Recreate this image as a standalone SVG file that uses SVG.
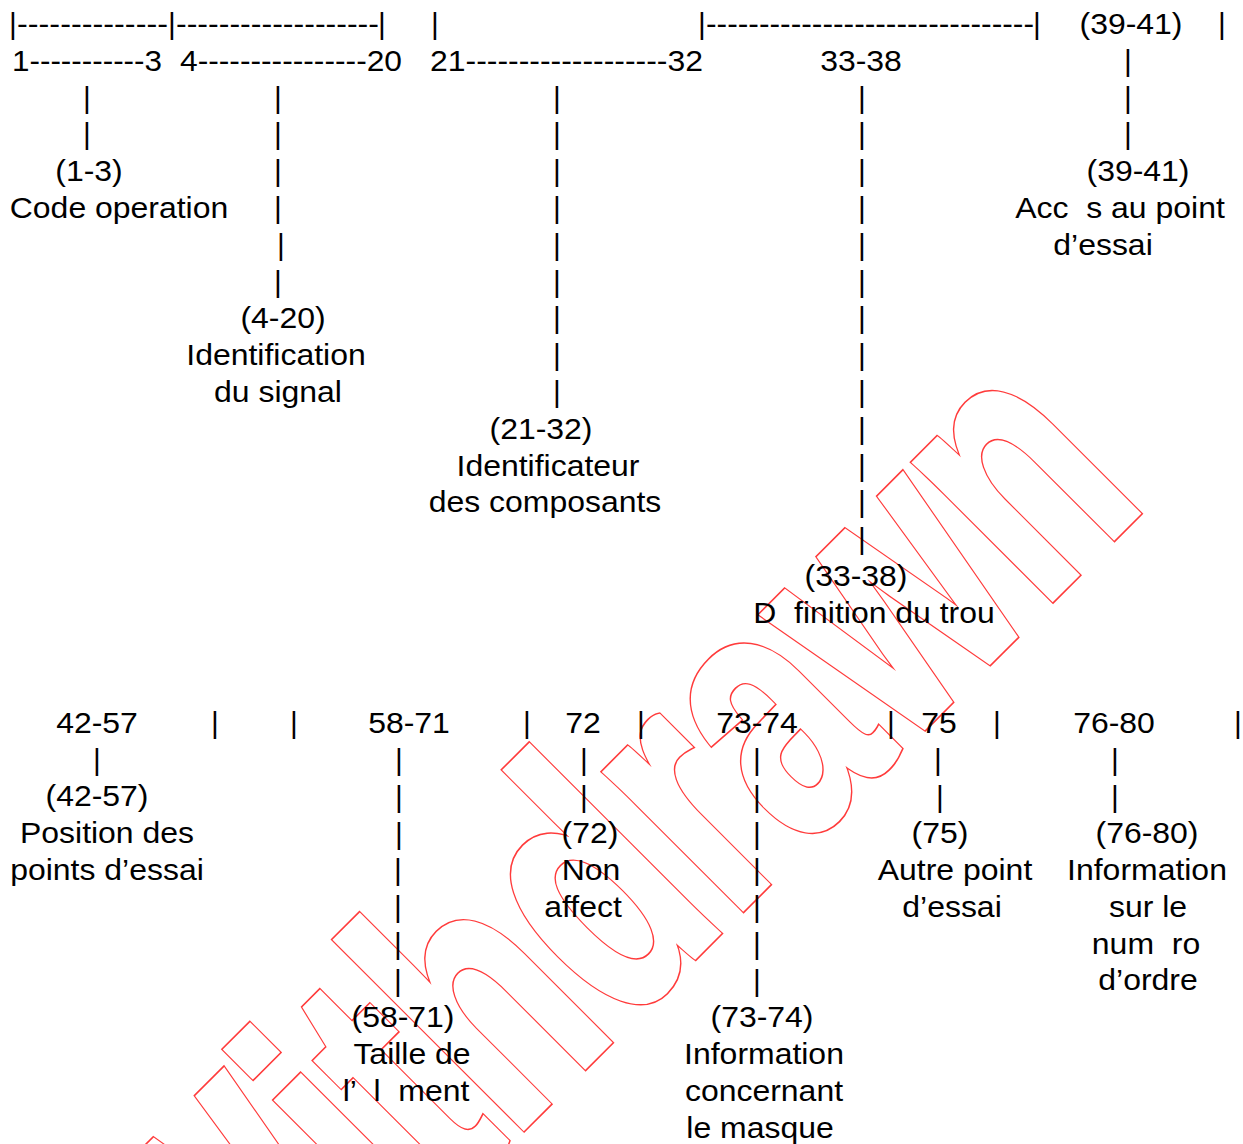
<svg xmlns="http://www.w3.org/2000/svg" width="1243" height="1144" viewBox="0 0 1243 1144">
<style>
text{font-family:"Liberation Sans",Arial,sans-serif;font-size:30px;fill:#000;white-space:pre}
.t{text-anchor:middle}
.p{text-anchor:middle}
.d{text-anchor:start}
.wm{font-family:"Liberation Sans",Arial,sans-serif;font-weight:bold;font-size:254px;text-anchor:start}
.wm1{fill:none;stroke:#ff3b3b;stroke-width:7.6px;stroke-linejoin:miter}
.wm2{fill:#fff;stroke:#fff;stroke-width:4.8px;stroke-linejoin:miter}
</style>
<rect width="1243" height="1144" fill="#fff"/>

<g id="watermark">
<text class="wm wm1" transform="translate(233 1418) rotate(-45) scale(1 1.44)" vector-effect="non-scaling-stroke">Withdrawn</text>
<text class="wm wm2" transform="translate(233 1418) rotate(-45) scale(1 1.44)" vector-effect="non-scaling-stroke">Withdrawn</text>
</g>

<g id="scale-top">
<text class="p" x="13" y="34">|</text>
<text class="d" x="17" y="34" textLength="151" lengthAdjust="spacingAndGlyphs">--------------</text>
<text class="p" x="172" y="34">|</text>
<text class="d" x="176" y="34" textLength="203" lengthAdjust="spacingAndGlyphs">-------------------</text>
<text class="p" x="382" y="34">|</text>
<text class="p" x="435" y="34">|</text>
<text class="p" x="702" y="34">|</text>
<text class="d" x="706" y="34" textLength="328" lengthAdjust="spacingAndGlyphs">-------------------------------</text>
<text class="p" x="1037" y="34">|</text>
<text class="p" x="1222" y="34">|</text>
<text class="d" x="12" y="70.8" textLength="150" lengthAdjust="spacingAndGlyphs">1-----------3</text>
<text class="d" x="180" y="70.8" textLength="222" lengthAdjust="spacingAndGlyphs">4----------------20</text>
<text class="d" x="430" y="70.8" textLength="273" lengthAdjust="spacingAndGlyphs">21-------------------32</text>
</g>

<g id="scale-bottom">
<text class="p" x="215" y="733.2">|</text>
<text class="p" x="294" y="733.2">|</text>
<text class="p" x="527" y="733.2">|</text>
<text class="p" x="641" y="733.2">|</text>
<text class="p" x="891" y="733.2">|</text>
<text class="p" x="997" y="733.2">|</text>
<text class="p" x="1238" y="733.2">|</text>
</g>

<g id="connectors">
<text class="p" x="87" y="107.6">|</text>
<text class="p" x="87" y="144.4">|</text>

<text class="p" x="278" y="107.6">|</text>
<text class="p" x="278" y="144.4">|</text>
<text class="p" x="278" y="181.2">|</text>
<text class="p" x="278" y="218">|</text>
<text class="p" x="281" y="254.8">|</text>
<text class="p" x="278" y="291.6">|</text>

<text class="p" x="557" y="107.6">|</text>
<text class="p" x="557" y="144.4">|</text>
<text class="p" x="557" y="181.2">|</text>
<text class="p" x="557" y="218">|</text>
<text class="p" x="557" y="254.8">|</text>
<text class="p" x="557" y="291.6">|</text>
<text class="p" x="557" y="328.4">|</text>
<text class="p" x="557" y="365.2">|</text>
<text class="p" x="557" y="402">|</text>

<text class="p" x="862" y="107.6">|</text>
<text class="p" x="862" y="144.4">|</text>
<text class="p" x="862" y="181.2">|</text>
<text class="p" x="862" y="218">|</text>
<text class="p" x="862" y="254.8">|</text>
<text class="p" x="862" y="291.6">|</text>
<text class="p" x="862" y="328.4">|</text>
<text class="p" x="862" y="365.2">|</text>
<text class="p" x="862" y="402">|</text>
<text class="p" x="862" y="438.8">|</text>
<text class="p" x="862" y="475.6">|</text>
<text class="p" x="862" y="512.4">|</text>
<text class="p" x="862" y="549.2">|</text>

<text class="p" x="1128" y="70.8">|</text>
<text class="p" x="1128" y="107.6">|</text>
<text class="p" x="1128" y="144.4">|</text>

<text class="p" x="97" y="770">|</text>

<text class="p" x="399" y="770">|</text>
<text class="p" x="399" y="806.8">|</text>
<text class="p" x="399" y="843.6">|</text>
<text class="p" x="398" y="880.4">|</text>
<text class="p" x="398" y="917.2">|</text>
<text class="p" x="398" y="954">|</text>
<text class="p" x="398" y="990.8">|</text>

<text class="p" x="584" y="770">|</text>
<text class="p" x="584" y="806.8">|</text>

<text class="p" x="757" y="770">|</text>
<text class="p" x="757" y="806.8">|</text>
<text class="p" x="757" y="843.6">|</text>
<text class="p" x="757" y="880.4">|</text>
<text class="p" x="757" y="917.2">|</text>
<text class="p" x="757" y="954">|</text>
<text class="p" x="757" y="990.8">|</text>

<text class="p" x="938" y="770">|</text>
<text class="p" x="940" y="806.8">|</text>

<text class="p" x="1115" y="770">|</text>
<text class="p" x="1115" y="806.8">|</text>
</g>

<g id="f1-3">
<text class="t" transform="translate(89 181.2) scale(1.065 1)">(1-3)</text>
<text class="t" transform="translate(119 218) scale(1.065 1)">Code operation</text>
</g>

<g id="f4-20">
<text class="t" transform="translate(283 328.4) scale(1.065 1)">(4-20)</text>
<text class="t" transform="translate(276 365.2) scale(1.065 1)">Identification</text>
<text class="t" transform="translate(278 402) scale(1.065 1)">du signal</text>
</g>

<g id="f21-32">
<text class="t" transform="translate(541 438.8) scale(1.065 1)">(21-32)</text>
<text class="t" transform="translate(548 475.6) scale(1.065 1)">Identificateur</text>
<text class="t" transform="translate(545 512.4) scale(1.065 1)">des composants</text>
</g>

<g id="f33-38">
<text class="t" transform="translate(861 70.8) scale(1.065 1)">33-38</text>
<text class="t" transform="translate(856 586) scale(1.065 1)">(33-38)</text>
<text class="t" transform="translate(874 622.8) scale(1.065 1)">D  finition du trou</text>
</g>

<g id="f39-41">
<text class="t" transform="translate(1131 34) scale(1.065 1)">(39-41)</text>
<text class="t" transform="translate(1138 181.2) scale(1.065 1)">(39-41)</text>
<text class="t" transform="translate(1120 218) scale(1.065 1)">Acc  s au point</text>
<text class="t" transform="translate(1103 254.8) scale(1.065 1)">d’essai</text>
</g>

<g id="f42-57">
<text class="t" transform="translate(97 733.2) scale(1.065 1)">42-57</text>
<text class="t" transform="translate(97 806.4) scale(1.065 1)">(42-57)</text>
<text class="t" transform="translate(107 843.2) scale(1.065 1)">Position des</text>
<text class="t" transform="translate(107 880) scale(1.065 1)">points d’essai</text>
</g>

<g id="f58-71">
<text class="t" transform="translate(409 733.2) scale(1.065 1)">58-71</text>
<text class="t" transform="translate(403 1027.2) scale(1.065 1)">(58-71)</text>
<text class="t" transform="translate(412 1064) scale(1.065 1)">Taille de</text>
<text class="t" transform="translate(406 1100.8) scale(1.065 1)">l’  l  ment</text>
</g>

<g id="f72">
<text class="t" transform="translate(583 733.2) scale(1.065 1)">72</text>
<text class="t" transform="translate(590 843.2) scale(1.065 1)">(72)</text>
<text class="t" transform="translate(591 880) scale(1.065 1)">Non</text>
<text class="t" transform="translate(583 916.8) scale(1.065 1)">affect</text>
</g>

<g id="f73-74">
<text class="t" transform="translate(757 733.2) scale(1.065 1)">73-74</text>
<text class="t" transform="translate(762 1027.2) scale(1.065 1)">(73-74)</text>
<text class="t" transform="translate(764 1064) scale(1.065 1)">Information</text>
<text class="t" transform="translate(764 1100.8) scale(1.065 1)">concernant</text>
<text class="t" transform="translate(760 1137.6) scale(1.065 1)">le masque</text>
</g>

<g id="f75">
<text class="t" transform="translate(939 733.2) scale(1.065 1)">75</text>
<text class="t" transform="translate(940 843.2) scale(1.065 1)">(75)</text>
<text class="t" transform="translate(955 880) scale(1.065 1)">Autre point</text>
<text class="t" transform="translate(952 916.8) scale(1.065 1)">d’essai</text>
</g>

<g id="f76-80">
<text class="t" transform="translate(1114 733.2) scale(1.065 1)">76-80</text>
<text class="t" transform="translate(1147 843.2) scale(1.065 1)">(76-80)</text>
<text class="t" transform="translate(1147 880) scale(1.065 1)">Information</text>
<text class="t" transform="translate(1148 916.8) scale(1.065 1)">sur le</text>
<text class="t" transform="translate(1146 953.6) scale(1.065 1)">num  ro</text>
<text class="t" transform="translate(1148 990.4) scale(1.065 1)">d’ordre</text>
</g>
</svg>
